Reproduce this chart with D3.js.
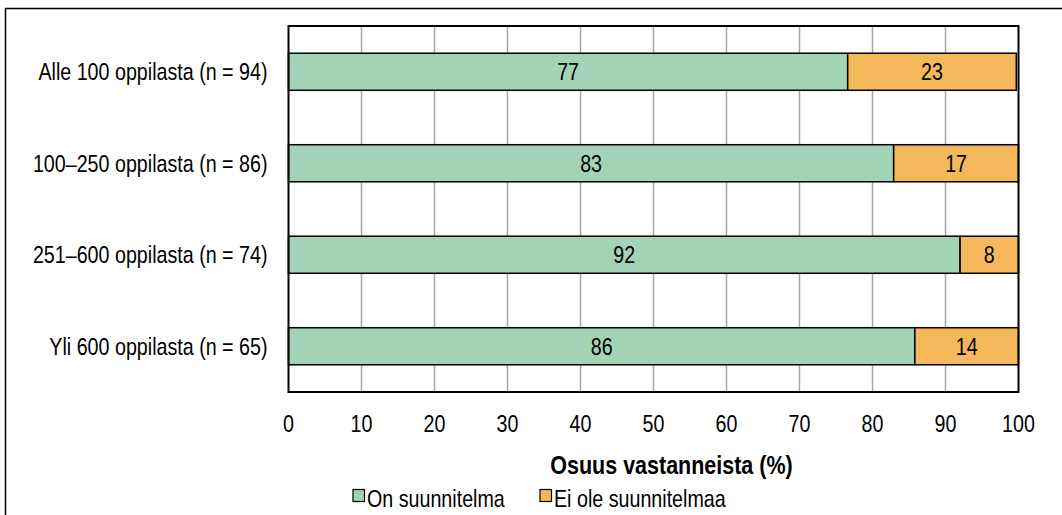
<!DOCTYPE html>
<html>
<head>
<meta charset="utf-8">
<script src="https://cdn.jsdelivr.net/npm/d3@7"></script>
<style>
  body { margin: 0; background: #fff; }
  svg { display: block; font-family: 'Liberation Sans Narrow', 'Arial Narrow', 'Liberation Sans', Arial, sans-serif; }
</style>
</head>
<body>
<svg id="chart" width="1062" height="515"></svg>
<script>
const categories = [
  'Alle 100 oppilasta (n = 94)',
  '100–250 oppilasta (n = 86)',
  '251–600 oppilasta (n = 74)',
  'Yli 600 oppilasta (n = 65)'
]
const seriesNames = ['On suunnitelma', 'Ei ole suunnitelmaa']
const onValues = [76.6, 82.9, 92.0, 85.8]
const eiValues = [23.1, 17.1, 8.0, 14.2]
const xTicks = [0, 10, 20, 30, 40, 50, 60, 70, 80, 90, 100]
const colorsList = ['#a3d3b6', '#f4b75a']

const svg = d3.select('#chart')
const margin = { left: 288.5, right: 43.5, top: 26, bottom: 123 }
const W = 1062, H = 515
const innerW = W - margin.left - margin.right
const innerH = H - margin.top - margin.bottom
const fontSize = 24
const squeeze = 0.82

// narrow look: scale text horizontally around its anchor point
function place (sel, fx, fy, k) {
  sel.attr('transform', (d, i) => `translate(${fx(d, i)},${fy(d, i)}) scale(${k || squeeze},1)`)
}

// outer frame
svg.append('rect')
  .attr('x', 5.5).attr('y', 8.5)
  .attr('width', 1070).attr('height', 520)
  .attr('fill', 'none').attr('stroke', '#000').attr('stroke-width', 1.5)

const g = svg.append('g').attr('transform', `translate(${margin.left},${margin.top})`)

const x = d3.scaleLinear().domain([0, 100]).range([0, innerW])
const y = d3.scaleBand().domain(categories).range([0, innerH])
const barH = y.bandwidth() * 0.405

// gridlines
g.append('g').attr('class', 'grid')
  .selectAll('line')
  .data(xTicks.slice(1, -1))
  .join('line')
  .attr('x1', d => x(d)).attr('x2', d => x(d))
  .attr('y1', 0).attr('y2', innerH)
  .attr('stroke', '#a6a6a6').attr('stroke-width', 1.5)

const stackData = categories.map((c, i) => ({ cat: c, on: onValues[i], ei: eiValues[i] }))
const stack = d3.stack().keys(['on', 'ei'])(stackData)

const layers = g.selectAll('g.layer')
  .data(stack)
  .join('g')
  .attr('class', 'layer')
  .attr('fill', (d, i) => colorsList[i])

layers.selectAll('rect')
  .data(d => d)
  .join('rect')
  .attr('x', d => x(d[0]))
  .attr('width', d => x(d[1]) - x(d[0]))
  .attr('y', d => y(d.data.cat) + (y.bandwidth() - barH) / 2)
  .attr('height', barH)
  .attr('stroke', '#000').attr('stroke-width', 1.5)

layers.selectAll('text')
  .data(d => d)
  .join('text')
  .call(place, d => (x(d[0]) + x(d[1])) / 2, d => y(d.data.cat) + y.bandwidth() / 2)
  .attr('dy', '0.36em')
  .attr('text-anchor', 'middle')
  .attr('fill', '#000')
  .style('font-size', fontSize + 'px')
  .text(d => Math.round(d[1] - d[0]))

// plot frame
g.append('rect')
  .attr('x', 0).attr('y', 0)
  .attr('width', innerW).attr('height', innerH)
  .attr('fill', 'none').attr('stroke', '#000').attr('stroke-width', 2)

// category labels
g.append('g')
  .selectAll('text')
  .data(categories)
  .join('text')
  .call(place, () => -21, d => y(d) + y.bandwidth() / 2)
  .attr('dy', '0.36em')
  .attr('text-anchor', 'end')
  .style('font-size', fontSize + 'px')
  .text(d => d)

// x axis labels
g.append('g')
  .selectAll('text')
  .data(xTicks)
  .join('text')
  .call(place, d => x(d), () => innerH + 40)
  .attr('text-anchor', 'middle')
  .style('font-size', fontSize + 'px')
  .text(d => d)

svg.append('text')
  .datum('Osuus vastanneista (%)')
  .call(place, () => 671.5, () => 473.5, 0.86)
  .attr('text-anchor', 'middle')
  .style('font-size', '25px').style('font-weight', 'bold')
  .text(d => d)

// legend
const legendX = [353, 540]
const legend = svg.append('g')
  .selectAll('g')
  .data(seriesNames)
  .join('g')
  .attr('transform', (d, i) => `translate(${legendX[i]},489.5)`)

legend.append('rect')
  .attr('width', 11.5).attr('height', 12)
  .attr('fill', (d, i) => colorsList[i])
  .attr('stroke', '#000').attr('stroke-width', 1.2)

legend.append('text')
  .call(place, () => 14, () => 17.5)
  .style('font-size', fontSize + 'px')
  .text(d => d)
</script>
</body>
</html>
